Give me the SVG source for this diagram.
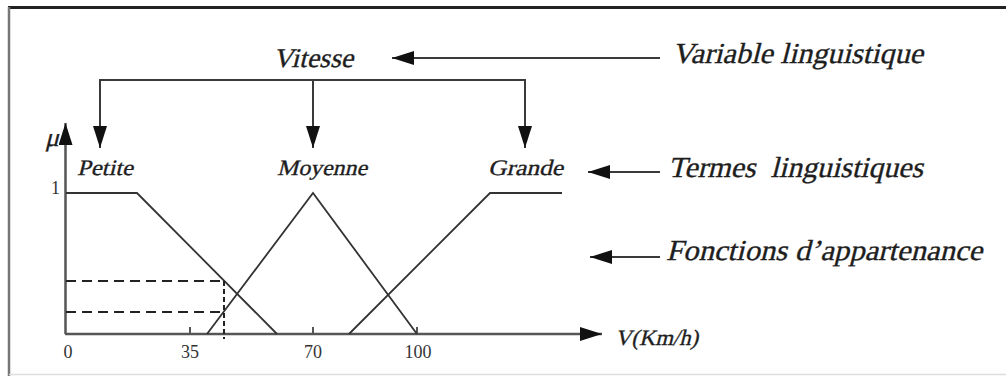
<svg xmlns="http://www.w3.org/2000/svg" width="1006" height="376" viewBox="0 0 1006 376">
<style>
.lbl{font-family:"Liberation Serif","Times New Roman",serif;font-style:normal;fill:#1e1e1e;stroke:#1e1e1e;stroke-width:0.35}
.num{font-family:"Liberation Serif","Times New Roman",serif;fill:#333;font-size:18px}
.conn{fill:none;stroke:#3a3a3a;stroke-width:2}
.mf{fill:none;stroke:#333;stroke-width:1.8}
.dash{fill:none;stroke:#222;stroke-width:2;stroke-dasharray:10 6}
</style>
<defs>
<marker id="ah" markerUnits="userSpaceOnUse" markerWidth="24" markerHeight="16" refX="22" refY="7" orient="auto">
<path d="M0,0 L22,7 L0,14 z" fill="#111"/>
</marker>
</defs>
<rect width="1006" height="376" fill="#fff"/>
<g id="frame">
<line x1="8" y1="7.5" x2="1006" y2="7.5" stroke="#222" stroke-width="3"/>
<line x1="9" y1="7" x2="9" y2="376" stroke="#777" stroke-width="2.5"/>
<line x1="9" y1="374.5" x2="1006" y2="374.5" stroke="#ddd" stroke-width="1.5"/>
</g>
<g id="axes">
<line x1="65.5" y1="334" x2="65.5" y2="123" stroke="#555" stroke-width="2.5" marker-end="url(#ah)"/>
<line x1="65" y1="334" x2="602" y2="334" stroke="#555" stroke-width="2.5" marker-end="url(#ah)"/>
<path d="M190,334 V327 M313,334 V327 M417,334 V327" stroke="#555" stroke-width="2"/>
<text class="lbl" transform="translate(45,146) skewX(-14)" font-size="26">μ</text>
<text class="num" x="51" y="194" font-size="17">1</text>
<text class="num" x="68" y="358" text-anchor="middle">0</text>
<text class="num" x="190" y="358" text-anchor="middle">35</text>
<text class="num" x="313" y="358" text-anchor="middle">70</text>
<text class="num" x="418" y="358" text-anchor="middle">100</text>
<text class="lbl" transform="translate(615,345) skewX(-14)" font-size="22" textLength="83" lengthAdjust="spacingAndGlyphs">V(Km/h)</text>
</g>
<g id="petite">
<polyline class="mf" points="66,193 137,193 277,334"/>
<text class="lbl" transform="translate(77,175) skewX(-14)" font-size="22" textLength="56" lengthAdjust="spacingAndGlyphs">Petite</text>
</g>
<g id="moyenne">
<polyline class="mf" points="207,334 313,193 417,334"/>
<text class="lbl" transform="translate(277,175) skewX(-14)" font-size="22" textLength="90" lengthAdjust="spacingAndGlyphs">Moyenne</text>
</g>
<g id="grande">
<polyline class="mf" points="349,334 490,193 562,193"/>
<text class="lbl" transform="translate(488,175) skewX(-14)" font-size="22" textLength="75" lengthAdjust="spacingAndGlyphs">Grande</text>
</g>
<g id="projection">
<line class="dash" x1="66" y1="281" x2="224" y2="281"/>
<line class="dash" x1="66" y1="312" x2="224" y2="312"/>
<line x1="224" y1="281" x2="224" y2="339" stroke="#222" stroke-width="2" stroke-dasharray="5 3"/>
</g>
<g id="vitesse">
<text class="lbl" transform="translate(273,67) skewX(-14)" font-size="27" textLength="80" lengthAdjust="spacingAndGlyphs">Vitesse</text>
</g>
<g id="variable-linguistique">
<text class="lbl" transform="translate(672,63) skewX(-14)" font-size="29" textLength="251" lengthAdjust="spacingAndGlyphs">Variable linguistique</text>
</g>
<g id="termes-linguistiques">
<text class="lbl" transform="translate(668,177) skewX(-14)" font-size="29" textLength="255" lengthAdjust="spacingAndGlyphs" xml:space="preserve">Termes  linguistiques</text>
</g>
<g id="fonctions-appartenance">
<text class="lbl" transform="translate(666,260) skewX(-14)" font-size="29" textLength="316" lengthAdjust="spacingAndGlyphs">Fonctions d’appartenance</text>
</g>
<g id="connectors">
<path class="conn" d="M100,80 H525"/>
<line class="conn" x1="100" y1="79" x2="100" y2="148" marker-end="url(#ah)"/>
<line class="conn" x1="313" y1="80" x2="313" y2="148" marker-end="url(#ah)"/>
<line class="conn" x1="525" y1="79" x2="525" y2="148" marker-end="url(#ah)"/>
<line class="conn" x1="660" y1="58" x2="392" y2="58" marker-end="url(#ah)"/>
<line class="conn" x1="660" y1="172" x2="588" y2="172" marker-end="url(#ah)"/>
<line class="conn" x1="660" y1="257" x2="590" y2="257" marker-end="url(#ah)"/>
</g>
</svg>
